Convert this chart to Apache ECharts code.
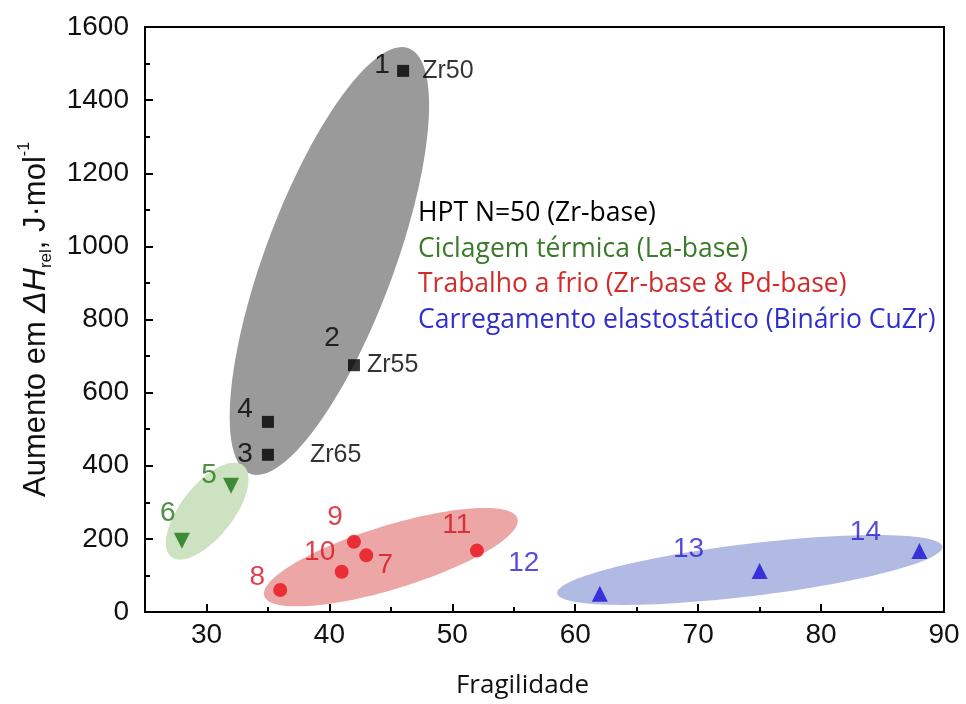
<!DOCTYPE html>
<html>
<head>
<meta charset="utf-8">
<script src="https://cdn.jsdelivr.net/npm/echarts@6/dist/echarts.min.js"></script>
<style>html,body{margin:0;padding:0;background:#fff;}#c{width:966px;height:704px;}</style>
</head>
<body>
<div id="c"></div>
<script>
// ---------------- DATA ----------------
const groupNames = [
  'HPT N=50 (Zr-base)',
  'Ciclagem térmica (La-base)',
  'Trabalho a frio (Zr-base & Pd-base)',
  'Carregamento elastostático (Binário CuZr)'
];
// HPT N=50 (Zr-based)
const hptX = [46, 42, 35, 35];
const hptY = [1480, 675, 520, 430];
const hptLabels = ['1', '2', '4', '3'];
const hptAlloys = ['Zr50', 'Zr55', '', 'Zr65'];
// Thermal cycling (La-based)
const thermX = [32, 28];
const thermY = [345, 195];
const thermLabels = ['5', '6'];
// Cold work
const coldX = [36, 41, 42, 43, 52];
const coldY = [60, 110, 192, 155, 168];
const coldLabels = ['8', '10', '9', '7', '11'];
// Elastostatic loading
const elastoX = [62, 75, 88];
const elastoY = [50, 112, 167];
const elastoLabels = ['12', '13', '14'];
// Group regions (ellipses): center, end of major semi-axis, end of minor semi-axis (data units)
const regionCenter = [[40.0, 960], [30.06, 276], [45.0, 150], [74.2, 115]];
const regionMajorEnd = [[46.44, 1542], [32.98, 401], [55.3, 256], [89.87, 179]];
const regionMinorEnd = [[44.93, 900], [31.73, 232], [45.76, 67], [74.49, 44]];
// Axis ticks
const xMajorTicks = [30, 40, 50, 60, 70, 80, 90];
const xMinorTicks = [35, 45, 55, 65, 75, 85];

// ---------------- LAYOUT / STYLE ----------------
const hptOffsets = [[-21, -6], [-22, -27], [-23, -13], [-23, -1]];
const alloyDist = [19, 13, 0, 42];
const thermOffsets = [[-22, -11], [-14, -27]];
const coldOffsets = [[-23, -13], [-22, -20], [-19, -25], [19, 10], [-20, -25]];
const elastoOffsets = [[-76, -30], [-71, -22], [-54, -19]];
const markerColors = ['#000000', '#1c7410', '#e8101a', '#1a0fd6'];
const labelColors = ['#000000', '#24741a', '#d8121e', '#2a1fd0'];
const legendColors = ['#000000', '#3b7a2a', '#d42a2a', '#2f2fcf'];
const regionFills = ['#9a9a9a', '#cde2c1', '#eda6a6', '#b0bae3'];
const NUM_FONT = 'Arial';
const TEXT_FONT = 'Open Sans';

function pts(xs, ys, labels, offsets, color) {
  return xs.map((x, i) => ({
    value: [x, ys[i]],
    label: {
      show: true, formatter: labels[i], position: 'inside', offset: offsets[i],
      color: color, fontSize: 28, fontFamily: NUM_FONT
    }
  }));
}

const chart = echarts.init(document.getElementById('c'), null, {renderer: 'canvas'});

const regionData = regionCenter.map((c, i) => [c[0], c[1], regionMajorEnd[i][0], regionMajorEnd[i][1], regionMinorEnd[i][0], regionMinorEnd[i][1]]);

const option = {
  backgroundColor: '#ffffff',
  animation: false,
  grid: {left: 145, right: 22, top: 27, bottom: 91, show: true, borderColor: '#000', borderWidth: 2, backgroundColor: 'transparent'},
  legend: {
    orient: 'vertical', left: 408, top: 191, itemWidth: 0, itemHeight: 0, itemGap: 0,
    icon: 'none', selectedMode: false,
    textStyle: {fontSize: 26.5, fontFamily: TEXT_FONT, lineHeight: 35.5},
    data: groupNames.map((n, i) => ({name: n, textStyle: {color: legendColors[i]}}))
  },
  xAxis: [{
    type: 'value', min: 25, max: 90, position: 'bottom',
    name: 'Fragilidade', nameLocation: 'middle', nameGap: 61,
    nameTextStyle: {fontSize: 26, fontFamily: TEXT_FONT, color: '#111', padding: [0, 44, 0, 0]},
    axisLine: {show: true, onZero: false, lineStyle: {color: '#000', width: 2}},
    axisTick: {show: true, inside: true, length: 8, lineStyle: {color: '#000', width: 2}, customValues: xMajorTicks},
    axisLabel: {show: true, customValues: xMajorTicks, fontSize: 28, fontFamily: NUM_FONT, color: '#111', margin: 9},
    splitLine: {show: false}
  }, {
    type: 'value', min: 25, max: 90, position: 'bottom', gridIndex: 0,
    axisLine: {show: false},
    axisTick: {show: true, inside: true, length: 5, lineStyle: {color: '#000', width: 2}, customValues: xMinorTicks},
    axisLabel: {show: false},
    splitLine: {show: false}
  }],
  yAxis: {
    type: 'value', min: 0, max: 1600, interval: 200,
    name: '{a|Aumento em }{i|ΔH}{sub|rel}{a|, J·mol}{sup|-1}',
    nameLocation: 'middle', nameGap: 90, nameRotate: 90,
    nameTextStyle: {
      fontSize: 31, fontFamily: NUM_FONT, color: '#111',
      rich: {
        a: {fontSize: 31, fontFamily: NUM_FONT, color: '#111', lineHeight: 38},
        i: {fontSize: 32, fontFamily: NUM_FONT, fontStyle: 'italic', color: '#111', lineHeight: 38},
        sub: {fontSize: 17, fontFamily: NUM_FONT, color: '#111', verticalAlign: 'bottom', lineHeight: 17},
        sup: {fontSize: 16, fontFamily: NUM_FONT, color: '#111', verticalAlign: 'top', lineHeight: 16}
      }
    },
    axisLine: {show: true, onZero: false, lineStyle: {color: '#000', width: 2}},
    axisTick: {show: true, inside: true, length: 8, lineStyle: {color: '#000', width: 2}},
    minorTick: {show: true, splitNumber: 2, length: 5, lineStyle: {color: '#000', width: 2}},
    axisLabel: {fontSize: 28, fontFamily: NUM_FONT, color: '#111', margin: 16, formatter: v => String(v)},
    splitLine: {show: false}
  },
  series: [
    {
      type: 'custom', name: 'regions', silent: true, z: 1,
      dimensions: ['cx', 'cy', 'mx', 'my', 'nx', 'ny'],
      encode: {x: [0, 2, 4], y: [1, 3, 5]},
      data: regionData,
      renderItem: function (params, api) {
        const c = api.coord([api.value(0), api.value(1)]);
        const m = api.coord([api.value(2), api.value(3)]);
        const n = api.coord([api.value(4), api.value(5)]);
        const ux = m[0] - c[0], uy = m[1] - c[1], vx = n[0] - c[0], vy = n[1] - c[1];
        const points = [];
        for (let k = 0; k < 120; k++) {
          const t = k / 120 * Math.PI * 2;
          points.push([c[0] + ux * Math.cos(t) + vx * Math.sin(t), c[1] + uy * Math.cos(t) + vy * Math.sin(t)]);
        }
        return {type: 'polygon', shape: {points: points}, style: {fill: regionFills[params.dataIndex]}};
      }
    },
    {
      type: 'scatter', name: groupNames[0], symbol: 'rect', symbolSize: 12, z: 5,
      itemStyle: {color: markerColors[0]},
      data: pts(hptX, hptY, hptLabels, hptOffsets, labelColors[0])
    },
    {
      type: 'scatter', name: 'alloys', symbolSize: 0, z: 5, silent: true,
      data: hptX.map((x, i) => ({
        value: [x, hptY[i]],
        label: {show: hptAlloys[i] !== '', formatter: hptAlloys[i], position: 'right', distance: alloyDist[i],
          fontSize: 25, fontFamily: NUM_FONT, color: '#000'}
      }))
    },
    {
      type: 'scatter', name: groupNames[1], symbol: 'triangle', symbolRotate: 180, symbolSize: 16, z: 5,
      itemStyle: {color: markerColors[1]},
      data: pts(thermX, thermY, thermLabels, thermOffsets, labelColors[1])
    },
    {
      type: 'scatter', name: groupNames[2], symbol: 'circle', symbolSize: 14, z: 5,
      itemStyle: {color: markerColors[2]},
      data: pts(coldX, coldY, coldLabels, coldOffsets, labelColors[2])
    },
    {
      type: 'scatter', name: groupNames[3], symbol: 'triangle', symbolSize: 16, z: 5,
      itemStyle: {color: markerColors[3]},
      data: pts(elastoX, elastoY, elastoLabels, elastoOffsets, labelColors[3])
    }
  ]
};
chart.setOption(option);
</script>
</body>
</html>
